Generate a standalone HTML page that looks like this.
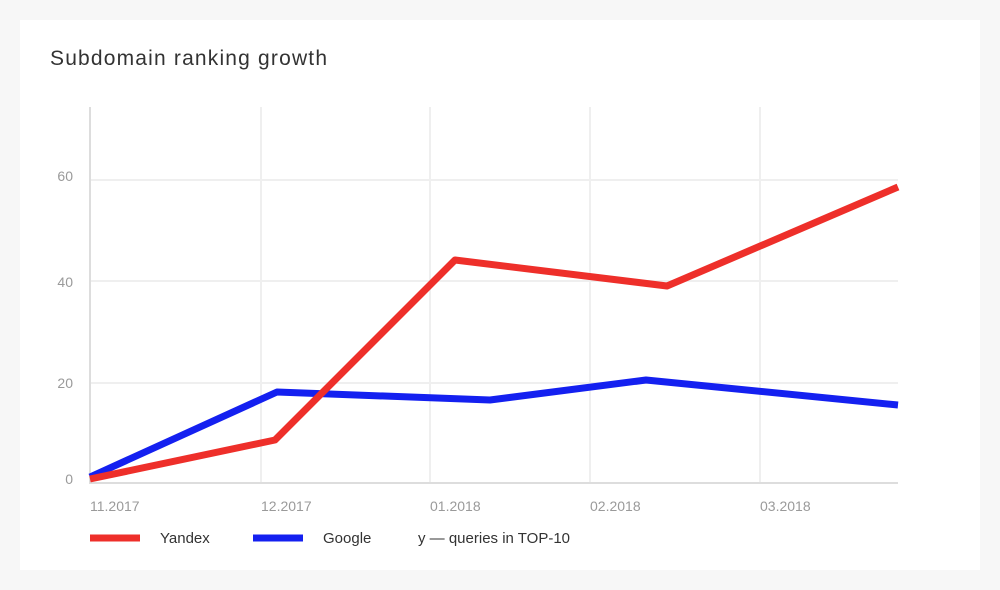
<!DOCTYPE html>
<html><head><style>
body{margin:0;background:#f7f7f7;width:1000px;height:590px;overflow:hidden;font-family:"Liberation Sans",sans-serif}
.card{position:absolute;left:20px;top:20px;width:960px;height:550px;background:#fff}
</style></head><body>
<div class="card"></div>
<svg width="1000" height="590" style="position:absolute;left:0;top:0">
<text x="50" y="65" font-size="21" fill="#333" font-family="Liberation Sans" textLength="277">Subdomain ranking growth</text>
<g stroke="#efefef" stroke-width="2">
<line x1="90" y1="180" x2="898" y2="180"/><line x1="90" y1="281" x2="898" y2="281"/><line x1="90" y1="383" x2="898" y2="383"/>
<line x1="261" y1="107" x2="261" y2="483"/><line x1="430" y1="107" x2="430" y2="483"/><line x1="590" y1="107" x2="590" y2="483"/><line x1="760" y1="107" x2="760" y2="483"/>
</g>
<line x1="90" y1="107" x2="90" y2="484" stroke="#ddd" stroke-width="2"/>
<line x1="89" y1="483" x2="898" y2="483" stroke="#ddd" stroke-width="2"/>
<g font-size="14" fill="#9a9a9a" text-anchor="end">
<text x="73" y="181">60</text><text x="73" y="287">40</text><text x="73" y="388">20</text><text x="73" y="484">0</text>
</g>
<g font-size="14" fill="#9a9a9a">
<text x="90" y="511">11.2017</text><text x="261" y="511">12.2017</text><text x="430" y="511">01.2018</text><text x="590" y="511">02.2018</text><text x="760" y="511">03.2018</text>
</g>
<polyline points="90,477 277,392 490,400 646,380 898,405" fill="none" stroke="#1420f0" stroke-width="7" stroke-linejoin="round"/>
<polyline points="90,479 275,440 455,260 667,286 898,187" fill="none" stroke="#ee2f2a" stroke-width="7" stroke-linejoin="round"/>
<line x1="90" y1="538" x2="140" y2="538" stroke="#ee2f2a" stroke-width="7"/>
<line x1="253" y1="538" x2="303" y2="538" stroke="#1420f0" stroke-width="7"/>
<g font-size="15" fill="#333">
<text x="160" y="543">Yandex</text><text x="323" y="543">Google</text><text x="418" y="543">y — queries in TOP-10</text>
</g>
</svg>
</body></html>
